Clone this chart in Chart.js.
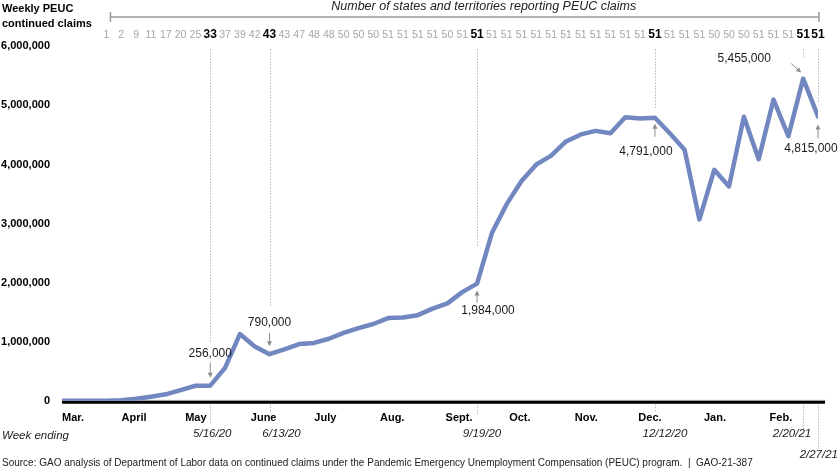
<!DOCTYPE html>
<html>
<head>
<meta charset="utf-8">
<script src="https://cdn.jsdelivr.net/npm/chart.js@4.4.1/dist/chart.umd.min.js"></script>
<style>
  body { margin: 0; background: #fff; }
  #wrap { width: 840px; height: 472px; }
</style>
</head>
<body>
<div id="wrap"><canvas id="grafica-peuc" width="840" height="472"></canvas></div>
<script>
// week ending dates (categories)
var weekEnding = ["3/7/20","3/14/20","3/21/20","3/28/20","4/4/20","4/11/20","4/18/20","4/25/20",
  "5/2/20","5/9/20","5/16/20","5/23/20","5/30/20","6/6/20","6/13/20","6/20/20","6/27/20",
  "7/4/20","7/11/20","7/18/20","7/25/20","8/1/20","8/8/20","8/15/20","8/22/20","8/29/20",
  "9/5/20","9/12/20","9/19/20","9/26/20","10/3/20","10/10/20","10/17/20","10/24/20","10/31/20",
  "11/7/20","11/14/20","11/21/20","11/28/20","12/5/20","12/12/20","12/19/20","12/26/20",
  "1/2/21","1/9/21","1/16/21","1/23/21","1/30/21","2/6/21","2/13/21","2/20/21","2/27/21"];

// weekly PEUC continued claims
var claims = [0,0,0,2000,8000,35000,70000,110000,180000,255000,256000,557000,1130000,920000,790000,
  870000,960000,980000,1050000,1150000,1230000,1300000,1400000,1410000,1450000,1560000,1650000,
  1840000,1984000,2840000,3330000,3720000,4000000,4150000,4390000,4510000,4570000,4530000,
  4800000,4780000,4791000,4530000,4250000,3070000,3910000,3630000,4810000,4090000,5100000,
  4480000,5455000,4815000];

// number of states and territories reporting PEUC claims
var statesReporting = [null,null,null,1,2,9,11,17,20,25,33,37,39,42,43,43,47,48,48,50,50,50,
  51,51,51,51,50,51,51,51,51,51,51,51,51,51,51,51,51,51,51,51,51,51,50,50,50,51,51,51,51,51];

// highlighted weeks
var highlightWeeks = ["5/16/20","6/13/20","9/19/20","12/12/20","2/20/21","2/27/21"];

// month axis labels
var monthLabels = ["Mar.","April","May","June","July","Aug.","Sept.","Oct.","Nov.","Dec.","Jan.","Feb."];

var yTicks = [0,1000000,2000000,3000000,4000000,5000000,6000000];

var FONT = "'Liberation Sans', Arial, sans-serif";
var hiIdx = highlightWeeks.map(function(w){ return weekEnding.indexOf(w); });

function isHi(c){ return !!(c && c.tick) && hiIdx.indexOf(c.tick.value) >= 0; }

// month start position in weeks, from the week ending dates
var monthPos = [];
var seen = {};
weekEnding.forEach(function(w, i){
  var p = w.split("/");
  var key = p[0] + "/" + p[2];
  if (!seen[key]) { seen[key] = true; monthPos.push(Math.max(0, i - (+p[1] - 1) / 7 + 0.45)); }
});

// callout styling per highlighted week (offsets only)
var calloutStyle = {
  "5/16/20":  {side:"above", dotEnd:-42, lab:[0,-32], arr:[-23,-8], dateDx:2, dateDot:423, dateY:434, dateAlign:"center"},
  "6/13/20":  {side:"above", dotEnd:-48, lab:[0,-31], arr:[-21,-8], dateDx:12, dateDot:412, dateY:434, dateAlign:"center"},
  "9/19/20":  {side:"below", dotEnd:-37, lab:[11,27], arr:[19,7], dateDx:5, dateDot:414, dateY:434, dateAlign:"center"},
  "12/12/20": {side:"below", dotEnd:-9, lab:[-9,34], arr:[19,6], dateDx:10, dateDot:412, dateY:434, dateAlign:"center"},
  "2/20/21":  {side:"left", dotEnd:-20, lab:[-59,-20], arr:[0,0], dateDx:8, dateDot:431, dateY:434, dateAlign:"right"},
  "2/27/21":  {side:"below", dotEnd:-13, lab:[-7,32], arr:[22,8], dateDx:20, dateDot:448, dateY:455, dateAlign:"right"}
};

function dotted(ctx, x, y1, y2){
  ctx.save();
  ctx.strokeStyle = "#b8b8b8";
  ctx.lineWidth = 1;
  ctx.setLineDash([1.5, 1.5]);
  ctx.beginPath();
  ctx.moveTo(Math.round(x) + 0.5, y1);
  ctx.lineTo(Math.round(x) + 0.5, y2);
  ctx.stroke();
  ctx.restore();
}

function arrow(ctx, x1, y1, x2, y2){
  var a = Math.atan2(y2 - y1, x2 - x1);
  ctx.save();
  ctx.strokeStyle = "#8c8c8c";
  ctx.fillStyle = "#8c8c8c";
  ctx.lineWidth = 1;
  ctx.beginPath();
  ctx.moveTo(x1, y1);
  ctx.lineTo(x2 - 3 * Math.cos(a), y2 - 3 * Math.sin(a));
  ctx.stroke();
  ctx.beginPath();
  ctx.moveTo(x2, y2);
  ctx.lineTo(x2 - 5 * Math.cos(a) + 2.5 * Math.sin(a), y2 - 5 * Math.sin(a) - 2.5 * Math.cos(a));
  ctx.lineTo(x2 - 5 * Math.cos(a) - 2.5 * Math.sin(a), y2 - 5 * Math.sin(a) + 2.5 * Math.cos(a));
  ctx.closePath();
  ctx.fill();
  ctx.restore();
}

var decoraciones = {
  id: "decoraciones",
  beforeDatasetsDraw: function(chart){
    var ctx = chart.ctx, x = chart.scales.x, y = chart.scales.y;
    var y0 = y.getPixelForValue(0);
    ctx.save();
    ctx.strokeStyle = "#c8c8c8";
    ctx.lineWidth = 1;
    ctx.beginPath(); ctx.moveTo(x.left, y0 - 0.5); ctx.lineTo(x.right + 7, y0 - 0.5); ctx.stroke();
    ctx.strokeStyle = "#000";
    ctx.lineWidth = 3;
    ctx.beginPath(); ctx.moveTo(x.left, y0 + 1.5); ctx.lineTo(x.right + 7, y0 + 1.5); ctx.stroke();
    ctx.restore();
  },
  afterDraw: function(chart){
    var ctx = chart.ctx, x = chart.scales.x, y = chart.scales.y;
    var top = chart.chartArea.top;
    ctx.save();
    // axis titles
    ctx.fillStyle = "#000";
    ctx.font = "bold 11px " + FONT;
    ctx.textBaseline = "middle";
    ctx.textAlign = "left";
    ctx.fillText("Weekly PEUC", 2, 9);
    ctx.fillText("continued claims", 2, 24);
    // bracket for state counts
    var first = statesReporting.findIndex(function(v){ return v !== null; });
    var bx1 = x.getPixelForValue(first) + 4;
    var bx2 = x.getPixelForValue(weekEnding.length - 1) + 1;
    ctx.strokeStyle = "#9a9a9a";
    ctx.lineWidth = 1.5;
    ctx.beginPath();
    ctx.moveTo(bx1, 17); ctx.lineTo(bx2, 17);
    ctx.moveTo(bx1, 12); ctx.lineTo(bx1, 22);
    ctx.moveTo(bx2, 12); ctx.lineTo(bx2, 22);
    ctx.stroke();
    ctx.font = "italic 12.5px " + FONT;
    ctx.fillStyle = "#222";
    ctx.textAlign = "center";
    ctx.fillText("Number of states and territories reporting PEUC claims", (bx1 + bx2) / 2 + 19, 7);
    // callouts
    highlightWeeks.forEach(function(w, k){
      var i = hiIdx[k], st = calloutStyle[w];
      var px = x.getPixelForValue(i), py = y.getPixelForValue(claims[i]);
      var txt = claims[i].toLocaleString("en-US");
      dotted(ctx, px, top + 3, py + st.dotEnd);
      ctx.font = "12px " + FONT;
      ctx.fillStyle = "#1a1a1a";
      ctx.textAlign = "center";
      ctx.textBaseline = "middle";
      ctx.fillText(txt, px + st.lab[0], py + st.lab[1]);
      if (st.side === "left") {
        arrow(ctx, px - 12, py - 15, px - 2, py - 6);
      } else {
        arrow(ctx, px, py + st.arr[0], px, py + st.arr[1]);
      }
      // week ending date below axis
      dotted(ctx, px, y.getPixelForValue(0) + 3, st.dateDot);
      ctx.font = "italic 11.5px " + FONT;
      ctx.fillStyle = "#222";
      ctx.textAlign = st.dateAlign;
      ctx.fillText(w, px + st.dateDx, st.dateY);
    });
    ctx.font = "italic 11.5px " + FONT;
    ctx.textAlign = "left";
    ctx.fillStyle = "#222";
    ctx.fillText("Week ending", 2, 436);
    ctx.font = "10px " + FONT;
    ctx.fillText("Source: GAO analysis of Department of Labor data on continued claims under the Pandemic Emergency Unemployment Compensation (PEUC) program.  |  GAO-21-387", 2, 463);
    ctx.restore();
  }
};

var graficacontexto = document.getElementById("grafica-peuc");
var grafica = new Chart(graficacontexto, {
  type: "line",
  data: {
    datasets: [{
      label: "Weekly PEUC continued claims",
      data: claims.map(function(v, i){ return {x: i, y: v}; }),
      borderColor: "#7286c0",
      borderWidth: 4.5,
      borderJoinStyle: "round",
      borderCapStyle: "round",
      pointRadius: 0,
      tension: 0,
      fill: false
    }]
  },
  options: {
    responsive: false,
    animation: false,
    devicePixelRatio: 1,
    layout: { padding: { top: 22, right: 22, bottom: 36, left: 0 } },
    plugins: { legend: { display: false }, tooltip: { enabled: false } },
    scales: {
      x: {
        type: "linear",
        position: "bottom",
        min: 0,
        max: weekEnding.length - 1,
        grid: { display: false, drawTicks: false },
        border: { display: false },
        afterBuildTicks: function(axis){
          axis.ticks = monthPos.map(function(v){ return {value: v}; });
        },
        ticks: {
          autoSkip: false,
          maxRotation: 0,
          align: "start",
          padding: 11,
          color: "#000",
          font: { family: FONT, size: 11, weight: "bold" },
          callback: function(v, idx){ return monthLabels[idx]; }
        }
      },
      x2: {
        type: "linear",
        position: "top",
        min: 0,
        max: weekEnding.length - 1,
        grid: { display: false, drawTicks: false },
        border: { display: false },
        afterBuildTicks: function(axis){
          var t = [];
          statesReporting.forEach(function(v, i){ if (v !== null) t.push({value: i}); });
          axis.ticks = t;
        },
        ticks: {
          autoSkip: false,
          maxRotation: 0,
          padding: 5,
          color: function(c){ return isHi(c) ? "#000" : "#a6a6a6"; },
          font: function(c){
            return isHi(c)
              ? { family: FONT, size: 12, weight: "bold" }
              : { family: FONT, size: 10.5 };
          },
          callback: function(v){ return String(statesReporting[v]); }
        }
      },
      y: {
        min: 0,
        max: 6000000,
        grid: { display: false, drawTicks: false },
        border: { display: false },
        afterBuildTicks: function(axis){
          axis.ticks = yTicks.map(function(v){ return {value: v}; });
        },
        afterFit: function(axis){ axis.width = 62; },
        ticks: {
          padding: 12,
          color: "#000",
          font: { family: FONT, size: 11, weight: "bold" },
          callback: function(v){ return v.toLocaleString("en-US"); }
        }
      }
    }
  },
  plugins: [decoraciones]
});
</script>
</body>
</html>
